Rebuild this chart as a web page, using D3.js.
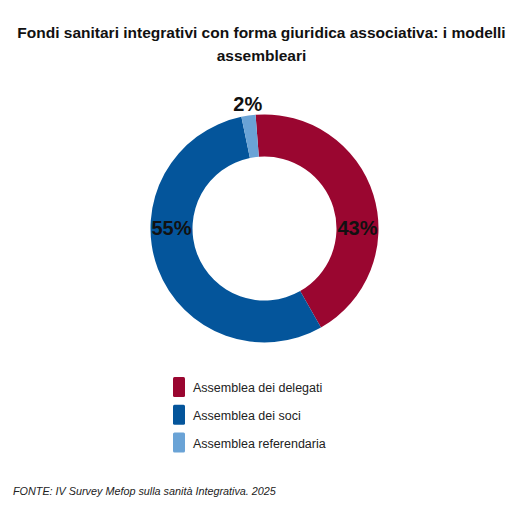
<!DOCTYPE html>
<html>
<head>
<meta charset="utf-8">
<script src="https://cdn.jsdelivr.net/npm/d3@7"></script>
<style>
  html, body { margin: 0; padding: 0; background: #fff; }
  svg text { font-family: "Liberation Sans", Arial, sans-serif; }
</style>
</head>
<body>
<svg id="chart" width="521" height="512"></svg>
<script>
// Data
const categories = ['Assemblea dei delegati', 'Assemblea dei soci', 'Assemblea referendaria']
const shares = [43, 55, 2]
const colors = ['#9a0630', '#04559b', '#6aa3d6']
const titleLines = ['Fondi sanitari integrativi con forma giuridica associativa: i modelli', 'assembleari']
const source = 'FONTE: IV Survey Mefop sulla sanità Integrativa. 2025'

const conf = {
  width: 521,
  height: 512,
  cx: 264.5,
  cy: 228.5,
  outerRadius: 114,
  innerRadius: 72,
  // rotation of the first slice, degrees
  startAngle: -4.5,
  labelSize: 20,
  legendX: 173,
  legendY: 377,
  legendStep: 27.8
}

const svg = d3.select('#chart')

// Title
svg.append('g')
  .selectAll('text')
  .data(titleLines)
  .join('text')
  .attr('x', conf.width / 2 + 1)
  .attr('y', (d, i) => 37.5 + i * 23.5)
  .attr('text-anchor', 'middle')
  .attr('font-size', 15.5)
  .attr('font-weight', 'bold')
  .attr('fill', '#111')
  .text(d => d)

const rad = conf.startAngle * Math.PI / 180
const pie = d3.pie()
  .sort(null)
  .startAngle(rad)
  .endAngle(rad + 2 * Math.PI)
  .value(d => d)

const arc = d3.arc()
  .innerRadius(conf.innerRadius)
  .outerRadius(conf.outerRadius)

const arcs = pie(shares)

const donut = svg.append('g')
  .attr('transform', `translate(${conf.cx},${conf.cy})`)

donut.selectAll('path')
  .data(arcs)
  .join('path')
  .attr('d', arc)
  .attr('fill', (d, i) => colors[i])

// Labels: big slices at the ring's horizontal crossing, small ones outside
const midR = (conf.innerRadius + conf.outerRadius) / 2
function labelPos (d) {
  const norm = a => (a + 2 * Math.PI) % (2 * Math.PI)
  const s = d.startAngle
  const e = d.endAngle
  const within = a => {
    for (let k = -1; k <= 1; k++) {
      const t = a + k * 2 * Math.PI
      if (t >= s && t <= e) return true
    }
    return false
  }
  if (within(Math.PI / 2)) return [midR, 0, 'inside']
  if (within(3 * Math.PI / 2)) return [-midR, 0, 'inside']
  const mid = norm((s + e) / 2)
  const r = conf.outerRadius + 4.5
  return [r * Math.sin(mid), -r * Math.cos(mid), 'outside']
}

donut.selectAll('text')
  .data(arcs)
  .join('text')
  .each(function (d) {
    const [x, y, where] = labelPos(d)
    d3.select(this)
      .attr('x', x)
      .attr('y', where === 'inside' ? y + 6 : y)
  })
  .attr('text-anchor', 'middle')
  .attr('font-size', conf.labelSize)
  .attr('font-weight', 'bold')
  .attr('fill', '#111')
  .text(d => d.data + '%')

// Legend
const legend = svg.append('g')
  .attr('transform', `translate(${conf.legendX},${conf.legendY})`)

const item = legend.selectAll('g')
  .data(categories)
  .join('g')
  .attr('transform', (d, i) => `translate(0,${i * conf.legendStep})`)

item.append('rect')
  .attr('width', 12)
  .attr('height', 20)
  .attr('rx', 1.5)
  .attr('fill', (d, i) => colors[i])

item.append('text')
  .attr('x', 20)
  .attr('y', 15)
  .attr('font-size', 12.5)
  .attr('fill', '#222')
  .text(d => d)

// Source
svg.append('text')
  .attr('x', 13)
  .attr('y', 495)
  .attr('font-size', 10.8)
  .attr('font-style', 'italic')
  .attr('fill', '#222')
  .text(source)
</script>
</body>
</html>
